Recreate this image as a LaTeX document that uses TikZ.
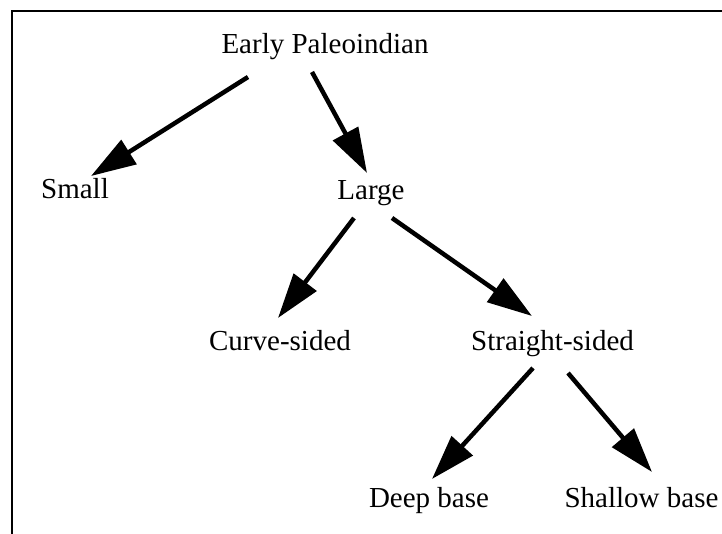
\documentclass[tikz,border=0pt]{standalone}
\usepackage{fontspec}
\setmainfont{Liberation Serif}
\usetikzlibrary{arrows.meta}
\begin{document}
\begin{tikzpicture}[x=1pt,y=-1pt,
  lbl/.style={anchor=base,inner sep=0pt,font=\fontsize{29}{34}\selectfont},
  arr/.style={line width=4.5pt,-{Triangle[length=45pt,width=28pt]}},
  frame/.style={line width=2pt}]
\useasboundingbox (0,0) rectangle (722,534);
\fill[white] (0,0) rectangle (722,534);
\draw[frame] (12,534) -- (12,11) -- (722,11);
\node[lbl] (ep) at (325,54) {Early Paleoindian};
\node[lbl] (small) at (75,199) {Small};
\node[lbl] (large) at (371,200) {Large};
\node[lbl] (curve) at (280,350) {Curve-sided};
\node[lbl] (straight) at (552.5,350) {Straight-sided};
\node[lbl] (deep) at (429,507) {Deep base};
\node[lbl] (shallow) at (641.5,507) {Shallow base};
\draw[arr] ([shift={(-77,23)}]ep.base) -- ([shift={(16,-23)}]small.base);
\draw[arr] ([shift={(-13,18)}]ep.base) -- ([shift={(-4,-27)}]large.base);
\draw[arr] ([shift={(-17,18)}]large.base) -- ([shift={(-2,-32)}]curve.base);
\draw[arr] ([shift={(21,18)}]large.base) -- ([shift={(-20.5,-34)}]straight.base);
\draw[arr] ([shift={(-19.5,18)}]straight.base) -- ([shift={(3,-28)}]deep.base);
\draw[arr] ([shift={(15.5,23)}]straight.base) -- ([shift={(10.5,-35)}]shallow.base);
\end{tikzpicture}
\end{document}
